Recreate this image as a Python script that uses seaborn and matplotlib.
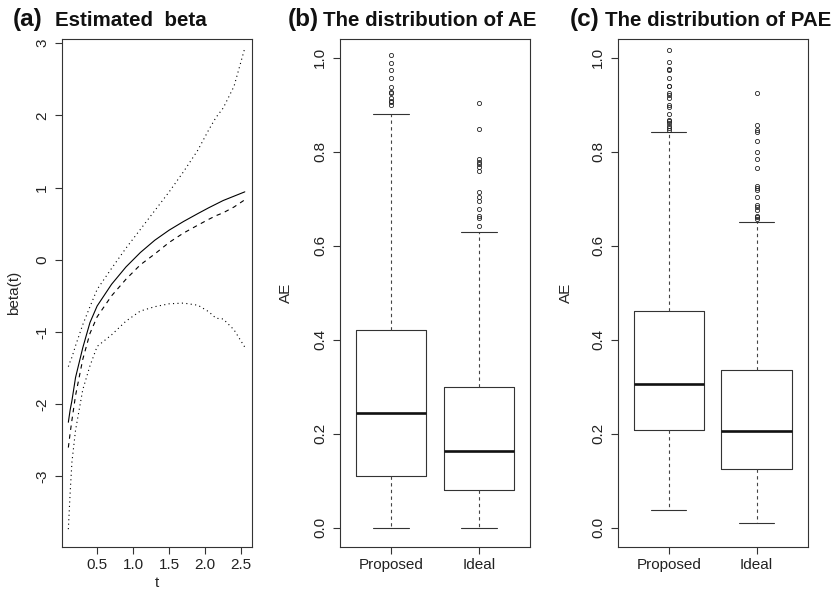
import matplotlib
matplotlib.use("Agg")
import matplotlib.pyplot as plt
import seaborn as sns

# panel (a): estimated beta(t) with bands
t = [0.10, 0.125, 0.15, 0.20, 0.30, 0.40, 0.50, 0.70, 0.90, 1.10, 1.30,
     1.50, 1.70, 1.90, 2.05, 2.15, 2.25, 2.40, 2.55]
beta_true = [-2.25, -2.08, -1.95, -1.63, -1.22, -0.87, -0.64, -0.34, -0.10, 0.10, 0.27,
             0.41, 0.53, 0.64, 0.72, 0.77, 0.82, 0.88, 0.94]
beta_est = [-2.60, -2.40, -2.22, -1.88, -1.38, -1.02, -0.79, -0.50, -0.27, -0.07, 0.08,
            0.24, 0.37, 0.48, 0.56, 0.61, 0.65, 0.73, 0.83]
band_upper = [-1.48, -1.41, -1.35, -1.19, -0.90, -0.65, -0.41, -0.12, 0.16, 0.42, 0.68,
              0.94, 1.22, 1.52, 1.80, 1.97, 2.10, 2.40, 2.93]
band_lower = [-3.73, -3.23, -2.80, -2.36, -1.80, -1.47, -1.20, -1.04, -0.85, -0.71, -0.65,
              -0.61, -0.60, -0.63, -0.72, -0.81, -0.82, -0.97, -1.21]

# panels (b), (c): boxplot summaries
groups = ["Proposed", "Ideal"]
ae_q1 = [0.109, 0.080]
ae_med = [0.245, 0.164]
ae_q3 = [0.421, 0.300]
ae_lo = [0.0, 0.0]
ae_hi = [0.880, 0.629]
ae_out = [
    [1.007, 0.988, 0.974, 0.956, 0.937, 0.928, 0.925, 0.914, 0.909, 0.906, 0.899],
    [0.903, 0.848, 0.785, 0.779, 0.774, 0.767, 0.759, 0.714, 0.703, 0.695, 0.679,
     0.664, 0.660, 0.642],
]
pae_q1 = [0.2085, 0.125]
pae_med = [0.306, 0.2055]
pae_q3 = [0.461, 0.335]
pae_lo = [0.037, 0.011]
pae_hi = [0.842, 0.651]
pae_out = [
    [1.017, 0.991, 0.977, 0.974, 0.956, 0.941, 0.939, 0.925, 0.921, 0.914, 0.900,
     0.896, 0.881, 0.868, 0.865, 0.861, 0.854, 0.850, 0.847],
    [0.925, 0.858, 0.847, 0.843, 0.823, 0.799, 0.785, 0.766, 0.728, 0.723, 0.718,
     0.703, 0.686, 0.682, 0.677, 0.664, 0.661, 0.657],
]

sns.set_style("ticks")
plt.rcParams['font.family'] = ['Liberation Sans', 'DejaVu Sans']

fig = plt.figure(figsize=(8.4, 5.93), dpi=100)
W, H = 840, 593
bottom = (H - 546.5) / H
height = 507.5 / H
axw = 190 / W
ax_a = fig.add_axes([62 / W, bottom, axw, height])
ax_b = fig.add_axes([340 / W, bottom, axw, height])
ax_c = fig.add_axes([617.7 / W, bottom, axw, height])

edge = '#333333'
for ax in (ax_a, ax_b, ax_c):
    for s in ax.spines.values():
        s.set_visible(True)
        s.set_linewidth(0.8)
        s.set_color(edge)
    ax.tick_params(direction='out', length=5.2, width=0.8, color=edge,
                   labelsize=11, labelcolor='#222222')
    ax.tick_params(axis='y', pad=4)
    ax.tick_params(axis='x', pad=3)
    ax.set_facecolor('white')

# (a)
lw = 0.8
sns.lineplot(x=t, y=beta_true, ax=ax_a, color='black', lw=lw, linestyle='-')
sns.lineplot(x=t, y=beta_est, ax=ax_a, color='black', lw=lw, linestyle=(0, (4, 4)))
sns.lineplot(x=t, y=band_upper, ax=ax_a, color='black', lw=lw, linestyle=(0, (1, 3)))
sns.lineplot(x=t, y=band_lower, ax=ax_a, color='black', lw=lw, linestyle=(0, (1, 3)))
ax_a.set_xlim(0.012, 2.65)
ax_a.set_ylim(-3.97, 3.056)
ax_a.set_xticks([0.5, 1.0, 1.5, 2.0, 2.5])
ax_a.set_xticklabels(["0.5", "1.0", "1.5", "2.0", "2.5"])
ax_a.set_yticks([-3, -2, -1, 0, 1, 2, 3])
ax_a.set_yticklabels(["-3", "-2", "-1", "0", "1", "2", "3"], rotation=90, va='center')
ax_a.set_xlabel("t", fontsize=11)
ax_a.set_ylabel("beta(t)", fontsize=11)
ax_a.xaxis.set_label_coords(0.5, -0.058)
ax_a.yaxis.set_label_coords(-0.215, 0.5)


def draw_box(ax, q1, med, q3, lo, hi, out):
    stats = []
    for i, g in enumerate(groups):
        stats.append(dict(label=g, q1=q1[i], med=med[i], q3=q3[i],
                          whislo=lo[i], whishi=hi[i], fliers=out[i]))
    ax.bxp(stats, positions=[1, 2], widths=0.8, capwidths=0.4,
           boxprops=dict(color=edge, lw=0.8),
           whiskerprops=dict(color='#444444', lw=0.8, linestyle=(0, (3, 3))),
           capprops=dict(color=edge, lw=0.8),
           medianprops=dict(color='#111111', lw=1.9, solid_capstyle='butt'),
           flierprops=dict(marker='o', markersize=3, markerfacecolor='none',
                           markeredgecolor='#222222', markeredgewidth=0.6))
    ax.set_xlim(0.42, 2.58)
    ax.set_ylim(-0.04, 1.04)
    ax.set_yticks([0.0, 0.2, 0.4, 0.6, 0.8, 1.0])
    ax.set_yticklabels(["0.0", "0.2", "0.4", "0.6", "0.8", "1.0"], rotation=90, va='center')
    ax.set_ylabel("AE", fontsize=11)


draw_box(ax_b, ae_q1, ae_med, ae_q3, ae_lo, ae_hi, ae_out)
draw_box(ax_c, pae_q1, pae_med, pae_q3, pae_lo, pae_hi, pae_out)
ax_b.yaxis.set_label_coords(-0.245, 0.5)
ax_c.yaxis.set_label_coords(-0.235, 0.5)

# titles
ty = 1 - 26 / H
for lab, x0, txt, x1 in [("(a)", 13, "Estimated  beta", 55),
                         ("(b)", 288, "The distribution of AE", 323),
                         ("(c)", 570, "The distribution of PAE", 605)]:
    fig.text(x0 / W, ty, lab, fontsize=17.5, fontweight='bold', va='baseline', color='#111111')
    fig.text(x1 / W, ty, txt, fontsize=14.8, fontweight='bold', va='baseline', color='#111111')

fig.savefig("out.png", dpi=100, facecolor='white')
